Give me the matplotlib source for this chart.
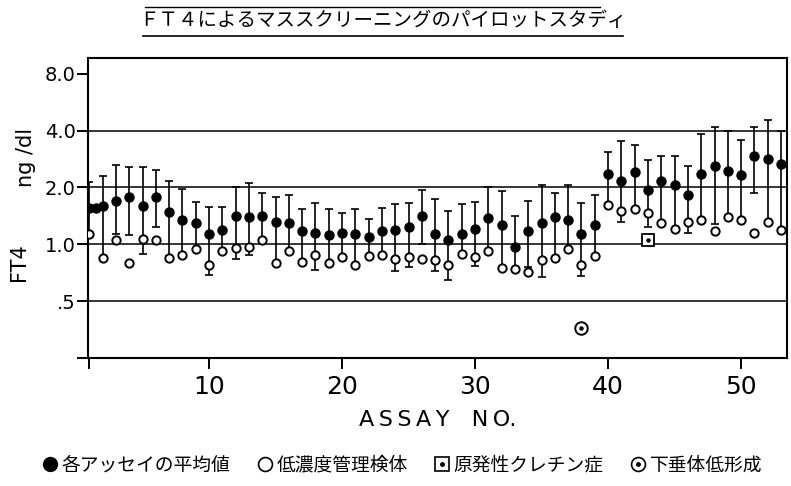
import matplotlib
matplotlib.use("Agg")
import matplotlib.pyplot as plt
import numpy as np
from matplotlib.lines import Line2D
from matplotlib.legend_handler import HandlerTuple
from matplotlib.ticker import NullLocator

jp = ['Noto Sans CJK JP', 'DejaVu Sans']

title = "ＦＴ４によるマススクリーニングのパイロットスタディ"
legend_labels = ["各アッセイの平均値", "低濃度管理検体", "原発性クレチン症", "下垂体低形成"]

assay = np.arange(1, 54)

# mean of each assay (filled) with the ends of its bar
mean = np.array([1.55, 1.60, 1.70, 1.77, 1.60, 1.77, 1.49, 1.35, 1.30, 1.13,
                 1.19, 1.42, 1.40, 1.41, 1.31, 1.29, 1.18, 1.15, 1.12, 1.15,
                 1.14, 1.09, 1.18, 1.19, 1.23, 1.42, 1.14, 1.05, 1.13, 1.20,
                 1.38, 1.26, 0.97, 1.18, 1.30, 1.40, 1.35, 1.13, 1.27, 2.35,
                 2.17, 2.43, 1.95, 2.17, 2.06, 1.83, 2.35, 2.61, 2.45, 2.32,
                 2.95, 2.83, 2.67])
mean_hi = np.array([2.14, 2.30, 2.64, 2.58, 2.58, 2.49, 2.16, 1.96, 1.68, 1.57,
                    1.58, 2.02, 2.10, 1.88, 1.77, 1.82, 1.54, 1.65, 1.53, 1.46,
                    1.53, 1.37, 1.55, 1.64, 1.66, 1.94, 1.74, 1.51, 1.64, 1.67,
                    2.02, 1.92, 1.41, 1.69, 2.07, 1.88, 2.07, 1.66, 1.82, 3.09,
                    3.54, 3.36, 2.79, 2.92, 2.92, 2.61, 3.86, 4.17, 4.00, 3.59,
                    4.17, 4.55, 4.00])
mean_lo = np.array([1.14, 0.85, 1.13, 1.12, 0.89, 1.23, 0.87, 0.90, 0.96, 0.69,
                    0.93, 0.835, 0.876, 1.05, 0.80, 0.92, 0.81, 0.73, 0.80, 0.86,
                    0.78, 0.87, 0.88, 0.72, 0.755, 1.00, 0.725, 0.65, 0.89, 0.765,
                    0.92, 0.74, 0.74, 0.76, 0.67, 0.85, 0.94, 0.68, 0.87, 1.61,
                    1.31, 1.53, 1.23, 1.30, 1.21, 1.15, 1.35, 1.28, 1.40, 1.34,
                    1.87, 1.31, 1.19])
# second filled dot squeezed against the axis at assay 1
extra_x = [1.5]
extra_y = [1.55]

# low concentration control specimen (open)
ctrl = np.array([1.14, 0.85, 1.06, 0.80, 1.07, 1.05, 0.845, 0.88, 0.95, 0.78,
                 0.92, 0.96, 0.97, 1.05, 0.80, 0.92, 0.81, 0.88, 0.80, 0.86,
                 0.78, 0.87, 0.88, 0.835, 0.855, 0.835, 0.83, 0.78, 0.89, 0.855,
                 0.92, 0.75, 0.74, 0.71, 0.83, 0.85, 0.94, 0.78, 0.87, 1.61,
                 1.50, 1.53, 1.47, 1.30, 1.21, 1.32, 1.35, 1.17, 1.40, 1.34,
                 1.15, 1.31, 1.19])

cretin_x, cretin_y = [43], [1.05]
pituitary_x, pituitary_y = [38], [0.36]

grid_levels = [0.5, 1.0, 2.0, 4.0]
ytick_vals = [0.25, 0.5, 1.0, 2.0, 4.0, 8.0]
ytick_labels = ['', '.5', '1.0', '2.0', '4.0', '8.0']
xtick_vals = [1, 10, 20, 30, 40, 50]
xtick_labels = ['', '10', '20', '30', '40', '50']

fig = plt.figure(figsize=(7.91, 4.86), dpi=100)
ax = fig.add_axes([88/791, 1-358/486, 699/791, 300/486])

for v in grid_levels:
    ax.axhline(v, color='black', lw=1.1, zorder=1)

ax.errorbar(assay, mean, yerr=[mean - mean_lo, mean_hi - mean], fmt='o',
            color='black', ms=6.5, elinewidth=1.2, capsize=3, capthick=1.2, zorder=3)
ax.plot(extra_x, extra_y, 'o', color='black', ms=6.5, zorder=3)
ax.plot(assay, ctrl, 'o', mfc='white', mec='black', mew=1.4, ms=6, zorder=4)

ax.plot(cretin_x, cretin_y, 's', mfc='white', mec='black', mew=1.3, ms=8.5, zorder=5)
ax.plot(cretin_x, cretin_y, 'o', color='black', ms=2.2, zorder=6)
ax.plot(pituitary_x, pituitary_y, 'o', mfc='white', mec='black', mew=1.4, ms=9, zorder=5)
ax.plot(pituitary_x, pituitary_y, 'o', color='black', ms=2.2, zorder=6)

ax.set_yscale('log')
ax.set_ylim(0.25, 9.7)
ax.set_xlim(0.9, 53.45)
ax.yaxis.set_minor_locator(NullLocator())
ax.set_yticks(ytick_vals, ytick_labels, fontsize=14)
ax.set_xticks(xtick_vals, xtick_labels, fontsize=18)
ax.tick_params(axis='both', direction='out', length=8, width=1.4, color='black')
ax.tick_params(axis='y', pad=1)
ax.tick_params(axis='x', pad=4)
for s in ax.spines.values():
    s.set_linewidth(1.5)

ax.set_xlabel("A\u2009S\u2009S\u2009A\u2009Y\u2003N\u2009O.", fontsize=16, labelpad=8)
fig.text(19/791, 1-262/486, "FT4", rotation=90, ha='center', va='center', fontsize=15)
fig.text(26/791, 1-157/486, "ng /dl", rotation=90, ha='center', va='center', fontsize=15)

fig.text(383/791, 1-21/486, title, ha='center', va='center', fontsize=14, family=jp)
fig.add_artist(Line2D([143/791, 623/791], [1-36/486, 1-36/486], color='black', lw=1.2))
fig.add_artist(Line2D([145/791, 600/791], [1-7/486, 1-7/486], color='black', lw=1.0))

h_mean = Line2D([], [], marker='o', ls='', color='black', ms=10)
h_ctrl = Line2D([], [], marker='o', ls='', mfc='white', mec='black', mew=1.2, ms=10)
h_sq = (Line2D([], [], marker='s', ls='', mfc='white', mec='black', mew=1.2, ms=10),
        Line2D([], [], marker='o', ls='', color='black', ms=2.5))
h_pit = (Line2D([], [], marker='o', ls='', mfc='white', mec='black', mew=1.2, ms=10),
         Line2D([], [], marker='o', ls='', color='black', ms=2.5))
fig.legend([h_mean, h_ctrl, h_sq, h_pit], legend_labels, ncol=4, loc='center',
           bbox_to_anchor=(402/791, 21/486), frameon=False,
           prop={'family': jp, 'size': 13.5}, handlelength=0.9, handletextpad=0.15,
           columnspacing=1.4, borderpad=0, handler_map={tuple: HandlerTuple(ndivide=1)})

fig.savefig('out.png', dpi=100)
